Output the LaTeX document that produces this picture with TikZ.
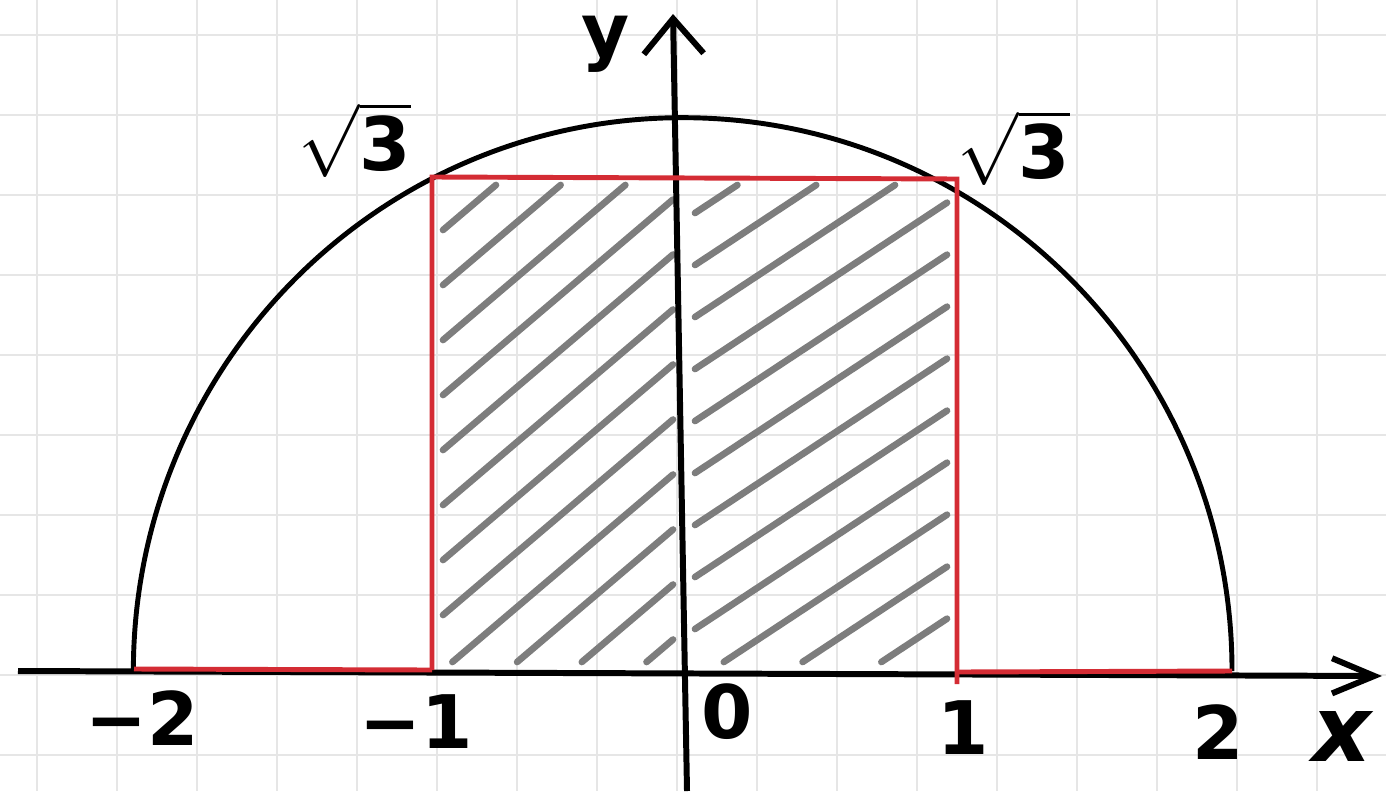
\documentclass[tikz,border=0pt]{standalone}
\usepackage{fontspec}
\setmainfont{DejaVu Sans}
\usetikzlibrary{arrows.meta}
\definecolor{penred}{RGB}{212,44,52}
\definecolor{gridgray}{RGB}{230,230,230}
\definecolor{hatchgray}{RGB}{125,125,125}
\begin{document}
\begin{tikzpicture}[x=0.01cm,y=-0.01cm,
  gridline/.style={draw=gridgray, line width=0.8pt},
  curve/.style={line width=1.4pt, black},
  axisline/.style={line width=1.7pt, black},
  redline/.style={line width=1.4pt, penred},
  hatch/.style={line width=1.9pt, hatchgray, line cap=round},
  lbl/.style={font=\bfseries\fontsize{21}{24}\selectfont, inner sep=0pt}]
\useasboundingbox (0,0) rectangle (1386,791);
\fill[white] (0,0) rectangle (1386,791);
% grid
\foreach \k in {0,...,16} \draw[gridline] (37+80*\k,0) -- (37+80*\k,791);
\foreach \k in {0,...,9} \draw[gridline] (0,35+80*\k) -- (1386,35+80*\k);
% hatching, left half
\foreach \c in {230,285,...,835} {
  \pgfmathsetmacro{\xs}{max(443, 443+(\c-662)/0.85)}
  \pgfmathsetmacro{\ys}{min(\c,662)}
  \pgfmathsetmacro{\xe}{min(673, 443+(\c-185)/0.85)}
  \pgfmathsetmacro{\ye}{max(185, \c-0.85*230)}
  \draw[hatch] (\xs,\ys) -- (\xe,\ye);
}
% hatching, right half
\foreach \c in {213,265,...,785} {
  \pgfmathsetmacro{\xs}{max(695, 695+(\c-662)/0.66)}
  \pgfmathsetmacro{\ys}{min(\c,662)}
  \pgfmathsetmacro{\xe}{min(947, 695+(\c-185)/0.66)}
  \pgfmathsetmacro{\ye}{max(185, \c-0.66*252)}
  \draw[hatch] (\xs,\ys) -- (\xe,\ye);
}
% coordinates
\coordinate (xs) at (18,671);
\coordinate (xe) at (1382,676);
\coordinate (ys) at (687,791);
\coordinate (ye) at (673,14);
\coordinate (m2) at (134,669);
\coordinate (p2) at (1232,671);
\coordinate (m1b) at (432,670);
\coordinate (m1t) at (432,177);
\coordinate (p1t) at (957,179);
\coordinate (p1b) at (957,684);
\coordinate (p1a) at (957,672);
% axes
\draw[axisline, -{Straight Barb[length=12pt,width=10pt]}] (xs) -- (xe);
\draw[axisline, -{Straight Barb[length=10pt,width=17pt]}] (ys) -- (ye);
% semicircle
\draw[curve] (p2) arc[start angle=0, end angle=180, x radius=5.49cm, y radius=5.53cm];
% red rectangle and base
\draw[redline] (m1b) -- (m1t) -- (p1t) -- (p1b);
\draw[redline] (m2) -- (m1b);
\draw[redline] (p1a) -- (p2);
% labels
\node[lbl] (lm2) at (142,718) {−2};
\node[lbl] (lm1) at (416,722) {−1};
\node[lbl] (l0) at (727,712) {0};
\node[lbl] (l1) at (963,728) {1};
\node[lbl] (l2) at (1218,732) {2};
\node[lbl, font=\bfseries\itshape\fontsize{26}{28}\selectfont] (lx) at (1342,736) {x};
\node[lbl] (ly) at (606,44) {y};
\node[lbl] (rt3l) at (355,140) {$\sqrt{\mbox{3}}$};
\node[lbl] (rt3r) at (1014,148) {$\sqrt{\mbox{3}}$};
\end{tikzpicture}
\end{document}
